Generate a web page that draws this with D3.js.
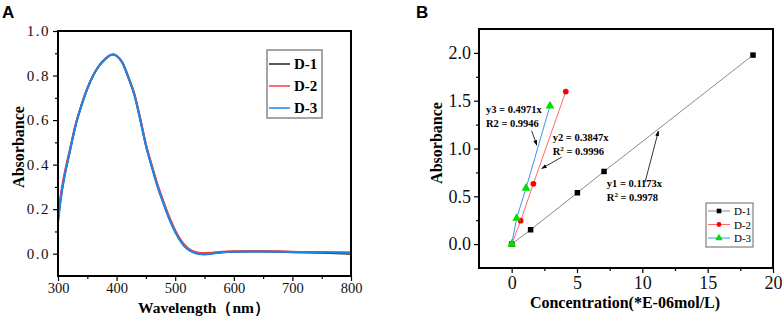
<!DOCTYPE html>
<html>
<head>
<meta charset="utf-8">
<script src="https://cdn.jsdelivr.net/npm/d3@7"></script>
<style>
body { margin: 0; background: #fff; }
text { font-family: "Liberation Serif", "Times New Roman", serif; }
</style>
</head>
<body>
<div class="chart"></div>
<script>
// ---- panel A : absorption spectra ----
var wavelengths = [300,305,310,320,330,340,350,360,370,380,390,395,400,410,420,430,440,450,460,470,
    480,490,500,510,520,530,540,550,560,570,580,600,625,650,675,700,750,800];
var absD1 = [0.15,0.255,0.335,0.458,0.577,0.666,0.741,0.80,0.844,0.873,0.893,0.895,0.889,0.858,0.793,0.718,0.608,0.488,0.393,0.303,
    0.228,0.158,0.1,0.055,0.025,0.009,0.001,-0.001,0.001,0.004,0.007,0.009,0.01,0.01,0.009,0.007,0.004,0.0];
var absD2 = [0.17,0.27,0.345,0.465,0.58,0.668,0.742,0.80,0.843,0.872,0.892,0.894,0.888,0.857,0.793,0.72,0.612,0.493,0.398,0.31,
    0.235,0.165,0.106,0.06,0.029,0.012,0.005,0.003,0.004,0.007,0.009,0.011,0.012,0.012,0.011,0.009,0.007,0.004];
var absD3 = [0.14,0.25,0.33,0.455,0.575,0.665,0.74,0.80,0.843,0.872,0.892,0.894,0.888,0.856,0.79,0.715,0.605,0.485,0.39,0.30,
    0.225,0.155,0.097,0.052,0.022,0.007,-0.001,-0.003,-0.001,0.003,0.006,0.009,0.01,0.01,0.009,0.008,0.007,0.006];
var seriesNames = ["D-1", "D-2", "D-3"];
var xTicksA = [300, 400, 500, 600, 700, 800];
var xMinorA = [350, 450, 550, 650, 750];
var yTicksA = [0, 0.2, 0.4, 0.6, 0.8, 1.0];
var yMinorA = [0.1, 0.3, 0.5, 0.7, 0.9];

// ---- panel B : calibration lines ----
var concD1 = [0, 1.45, 5.03, 7.07, 18.47];
var calD1 = [0, 0.15, 0.537, 0.76, 1.977];
var concD2 = [0, 0.69, 1.66, 4.14];
var calD2 = [0, 0.245, 0.63, 1.596];
var concD3 = [0, 0.38, 1.1, 2.93];
var calD3 = [0, 0.27, 0.585, 1.445];
var xTicksB = [0, 5, 10, 15, 20];
var xMinorB = [2.5, 7.5, 12.5, 17.5];
var yTicksB = [0, 0.5, 1.0, 1.5, 2.0];
var yMinorB = [0.25, 0.75, 1.25, 1.75];
var fitEquations = ["y3 = 0.4971x", "y2 = 0.3847x", "y1 = 0.1173x"];
var fitR2 = ["0.9946", "0.9996", "0.9978"];

var colorsA = ["#222", "#ff3b3b", "#1a86e8"];
var lineColorsB = ["#8a8a8a", "#ff6a6a", "#3b94f0"];

var canvas = d3.select(".chart")
    .append("svg")
    .attr("width", 782)
    .attr("height", 318);

// ============ A ============
var xA = d3.scaleLinear().domain([300, 800]).range([58, 351]);
var yA = d3.scaleLinear().domain([-0.1, 1.0]).range([276, 31]);

var gA = canvas.append("g");

function styleAxis(g, size) {
    g.attr("font-family", null).attr("font-size", null);
    g.select(".domain").remove();
    g.selectAll("line").attr("stroke", "#000").attr("stroke-width", 1.2);
    g.selectAll("text").attr("fill", "#111").style("font-size", size + "px")
        .style("font-family", "'Liberation Serif', 'Times New Roman', serif");
}

gA.append("g").attr("transform", "translate(58,0)")
    .call(d3.axisLeft(yA).tickValues(yTicksA).tickSize(5).tickPadding(3).tickFormat(d3.format(".1f")))
    .call(styleAxis, 15)
    .selectAll("text").style("letter-spacing", "1.5px");
gA.append("g").attr("transform", "translate(58,0)")
    .call(d3.axisLeft(yA).tickValues(yMinorA).tickSize(3).tickFormat(""))
    .call(styleAxis, 15);
gA.append("g").attr("transform", "translate(0,276)")
    .call(d3.axisBottom(xA).tickValues(xTicksA).tickSize(5).tickPadding(2).tickFormat(d3.format("d")))
    .call(styleAxis, 14.5);
gA.append("g").attr("transform", "translate(0,276)")
    .call(d3.axisBottom(xA).tickValues(xMinorA).tickSize(3).tickFormat(""))
    .call(styleAxis, 14.5);

var seriesA = [absD1, absD2, absD3].map(function(vals, i) {
    return { name: seriesNames[i], color: colorsA[i],
        values: wavelengths.map(function(w, j) { return [w, vals[j]]; }) };
});

var lineA = d3.line()
    .x(function(d) { return xA(d[0]); })
    .y(function(d) { return yA(d[1]); })
    .curve(d3.curveMonotoneX);

gA.selectAll(".spec")
    .data(seriesA)
    .enter().append("path")
    .attr("class", "spec")
    .attr("d", function(d) { return lineA(d.values); })
    .attr("fill", "none")
    .attr("stroke", function(d) { return d.color; })
    .attr("stroke-width", 2);

gA.append("rect")
    .attr("x", 58).attr("y", 31).attr("width", 293).attr("height", 245)
    .attr("fill", "none").attr("stroke", "#000").attr("stroke-width", 2);

// legend A
var legA = gA.append("g").attr("transform", "translate(267,50)");
legA.append("rect").attr("width", 55).attr("height", 68)
    .attr("fill", "#fff").attr("stroke", "#888").attr("stroke-width", 1.5);
var legARows = legA.selectAll(".row").data(seriesA).enter().append("g")
    .attr("transform", function(d, i) { return "translate(0," + (14 + i * 22) + ")"; });
legARows.append("line").attr("x1", 2).attr("x2", 23)
    .attr("stroke", function(d) { return d.color; }).attr("stroke-width", 1.5);
legARows.append("text").attr("x", 27).attr("y", 5)
    .style("font-size", "15px").style("font-weight", "bold")
    .text(function(d) { return d.name; });

gA.append("text")
    .attr("transform", "translate(24,147) rotate(-90)")
    .style("text-anchor", "middle").style("font-size", "16px").style("font-weight", "bold")
    .text("Absorbance");
gA.append("text")
    .attr("x", 204).attr("y", 313)
    .style("text-anchor", "middle").style("font-size", "15.5px").style("font-weight", "bold")
    .text("Wavelength（nm）");
gA.append("text")
    .attr("x", 2).attr("y", 18)
    .style("font-family", "'Liberation Sans', Arial, sans-serif")
    .style("font-size", "17px").style("font-weight", "bold")
    .text("A");

// ============ B ============
var xB = d3.scaleLinear().domain([-2.5, 20]).range([479, 773]);
var yB = d3.scaleLinear().domain([-0.25, 2.25]).range([268, 29]);

var gB = canvas.append("g");

gB.append("g").attr("transform", "translate(479,0)")
    .call(d3.axisLeft(yB).tickValues(yTicksB).tickSize(5).tickPadding(3).tickFormat(d3.format(".1f")))
    .call(styleAxis, 18);
gB.append("g").attr("transform", "translate(479,0)")
    .call(d3.axisLeft(yB).tickValues(yMinorB).tickSize(3).tickFormat(""))
    .call(styleAxis, 18);
gB.append("g").attr("transform", "translate(0,268)")
    .call(d3.axisBottom(xB).tickValues(xTicksB).tickSize(5).tickPadding(3).tickFormat(d3.format("d")))
    .call(styleAxis, 18);
gB.append("g").attr("transform", "translate(0,268)")
    .call(d3.axisBottom(xB).tickValues(xMinorB).tickSize(3).tickFormat(""))
    .call(styleAxis, 18);

gB.append("rect")
    .attr("x", 479).attr("y", 29).attr("width", 294).attr("height", 239)
    .attr("fill", "none").attr("stroke", "#000").attr("stroke-width", 2);

var seriesB = [[concD1, calD1], [concD2, calD2], [concD3, calD3]].map(function(s, i) {
    return { name: seriesNames[i], color: lineColorsB[i], shape: i,
        values: s[0].map(function(c, j) { return [c, s[1][j]]; }) };
});

var lineB = d3.line()
    .x(function(d) { return xB(d[0]); })
    .y(function(d) { return yB(d[1]); });

gB.selectAll(".cal")
    .data(seriesB)
    .enter().append("path")
    .attr("class", "cal")
    .attr("d", function(d) { return lineB(d.values); })
    .attr("fill", "none")
    .attr("stroke", function(d) { return d.color; })
    .attr("stroke-width", 1);

var symbols = [d3.symbolSquare, d3.symbolCircle, d3.symbolTriangle];
var symbolFill = ["#000", "#ff0000", "#00e000"];
var symbolSize = [30, 26, 34];

seriesB.forEach(function(s, i) {
    gB.selectAll(".pt" + i)
        .data(s.values)
        .enter().append("path")
        .attr("class", "pt" + i)
        .attr("transform", function(d) { return "translate(" + xB(d[0]) + "," + yB(d[1]) + ")"; })
        .attr("d", d3.symbol().type(symbols[i]).size(symbolSize[i]))
        .attr("fill", symbolFill[i]);
});

// fit annotations (positions in data units)
var defs = canvas.append("defs");
defs.append("marker").attr("id", "arrow")
    .attr("viewBox", "0 0 10 10").attr("refX", 9).attr("refY", 5)
    .attr("markerWidth", 7).attr("markerHeight", 7).attr("orient", "auto")
    .append("path").attr("d", "M0,1.5L10,5L0,8.5Z").attr("fill", "#000");

var fitPos = [[-1.97, 1.375], [3.14, 1.077], [7.28, 0.596]];
var fitArrows = [[1.53, 1.185, 1.92, 1.035], [3.83, 0.91, 2.30, 0.79], [10.21, 0.648, 11.23, 1.182]];

fitEquations.forEach(function(eq, i) {
    var px = xB(fitPos[i][0]), py = yB(fitPos[i][1]);
    gB.append("text").attr("x", px).attr("y", py)
        .style("font-size", "10.5px").style("font-weight", "bold").text(eq);
    var r = gB.append("text").attr("x", px).attr("y", py + 14)
        .style("font-size", "10.5px").style("font-weight", "bold");
    if (i === 0) {
        r.text("R2 = " + fitR2[i]);
    } else {
        r.append("tspan").text("R");
        r.append("tspan").attr("dy", -4).style("font-size", "7px").text("2");
        r.append("tspan").attr("dy", 4).text(" = " + fitR2[i]);
    }
    var a = fitArrows[i];
    gB.append("line")
        .attr("x1", xB(a[0])).attr("y1", yB(a[1]))
        .attr("x2", xB(a[2])).attr("y2", yB(a[3]))
        .attr("stroke", "#000").attr("stroke-width", 0.8)
        .attr("marker-end", "url(#arrow)");
});

// legend B
var legB = gB.append("g").attr("transform", "translate(706,203)");
legB.append("rect").attr("width", 47).attr("height", 44)
    .attr("fill", "#fff").attr("stroke", "#666").attr("stroke-width", 1);
var legBRows = legB.selectAll(".row").data(seriesB).enter().append("g")
    .attr("transform", function(d, i) { return "translate(0," + (8 + i * 13.5) + ")"; });
legBRows.append("line").attr("x1", 2).attr("x2", 24)
    .attr("stroke", function(d) { return d.color; }).attr("stroke-width", 1);
legBRows.append("path")
    .attr("transform", "translate(13,0)")
    .attr("d", function(d, i) { return d3.symbol().type(symbols[i]).size(symbolSize[i] * 0.7)(); })
    .attr("fill", function(d, i) { return symbolFill[i]; });
legBRows.append("text").attr("x", 28).attr("y", 4)
    .style("font-size", "11px")
    .text(function(d) { return d.name; });

gB.append("text")
    .attr("transform", "translate(442,143) rotate(-90)")
    .style("text-anchor", "middle").style("font-size", "16px").style("font-weight", "bold")
    .text("Absorbance");
gB.append("text")
    .attr("x", 625).attr("y", 308)
    .style("text-anchor", "middle").style("font-size", "16px").style("font-weight", "bold")
    .text("Concentration(*E-06mol/L)");
gB.append("text")
    .attr("x", 416).attr("y", 18)
    .style("font-family", "'Liberation Sans', Arial, sans-serif")
    .style("font-size", "17px").style("font-weight", "bold")
    .text("B");
</script>
</body>
</html>
